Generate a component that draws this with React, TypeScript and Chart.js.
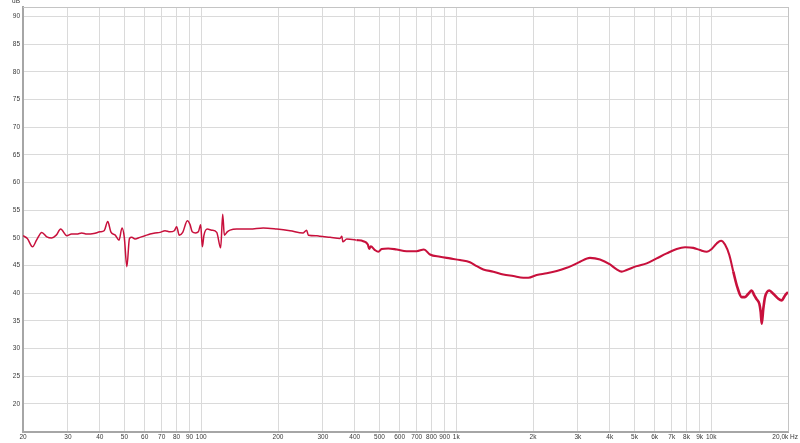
import React, { useEffect, useRef } from "react";
import { Chart, registerables } from "chart.js";

Chart.register(...registerables);

// Frequency (Hz) and level (dB)
const frequencies = [
  20.0, 20.8, 21.8, 22.6, 23.7, 24.8, 25.9, 27.0, 28.1, 29.7, 31.0, 32.5, 34.0, 35.6, 37.9,
  40.1, 41.6, 43.0, 44.2, 46.0, 47.6, 48.9, 49.9, 51.1, 52.3, 53.4, 55.0, 57.5, 60.2, 63.0,
  65.9, 68.9, 72.1, 75.4, 78.4, 80.1, 82.0, 84.6, 88.2, 90.4, 92.2, 95.1, 97.4, 99.5, 101,
  102.5, 105.6, 109.9, 115, 119.2, 121.4, 123.2, 126.5, 129.7, 137.7, 155, 175, 198, 223,
  251, 259, 263, 284, 292, 320, 350, 356, 359, 372, 407, 432, 450, 456, 462, 480, 495, 510,
  541, 584, 639, 700, 747, 789, 864, 945, 1034, 1132, 1203, 1277, 1398, 1529, 1674, 1832,
  1917, 2068, 2264, 2478, 2712, 2968, 3058, 3346, 3662, 4008, 4258, 4454, 4660, 5100, 5583,
  6111, 6689, 7321, 7894, 8505, 9036, 9599, 10042, 10506, 10924, 11323, 11774, 12206, 12655,
  13166, 13566, 13977, 14413, 14754, 15080, 15438, 15632, 15776, 16004, 16252, 16896, 17517,
  18326, 18897, 19465, 20000,
];

const levels = [
  50.4, 49.9, 48.4, 49.6, 51.0, 50.2, 50.0, 50.5, 51.6, 50.4, 50.7, 50.7, 50.9, 50.7, 50.8,
  51.1, 51.3, 52.95, 51.1, 50.5, 49.6, 51.8, 50.2, 44.8, 49.9, 50.1, 49.8, 50.1, 50.4, 50.7,
  50.9, 51.0, 51.3, 51.1, 51.3, 52.0, 50.5, 51.0, 53.1, 52.4, 51.1, 50.9, 51.1, 52.4, 48.4,
  50.5, 51.6, 51.4, 51.0, 48.2, 54.3, 50.5, 51.1, 51.4, 51.6, 51.6, 51.8, 51.6, 51.3,
  50.9, 51.4, 50.5, 50.4, 50.3, 50.1, 49.9, 50.3, 49.3, 49.8, 49.6, 49.4, 48.8, 48.0, 48.5,
  47.8, 47.5, 48.0, 48.1, 47.9, 47.6, 47.6, 47.9, 47.0, 46.6, 46.3, 46.0, 45.6, 44.9, 44.3,
  43.9, 43.4, 43.1, 42.8, 42.8, 43.3, 43.6, 44.0, 44.6, 45.4, 45.7, 46.4, 46.1, 45.2, 44.3,
  43.9, 44.2, 44.9, 45.4, 46.3, 47.2, 48.0, 48.3, 48.2, 47.8, 47.5, 48.0, 49.0, 49.5, 48.8,
  46.9, 43.9, 41.1, 39.3, 39.3, 39.9, 40.5, 39.6, 38.9, 38.1, 36.6, 34.5, 37.2, 39.3, 40.5,
  39.9, 39.0, 38.7, 39.6, 40.2,
];

const xTickValues = [
  20, 30, 40, 50, 60, 70, 80, 90, 100, 200, 300, 400, 500, 600, 700, 800, 900, 1000, 2000,
  3000, 4000, 5000, 6000, 7000, 8000, 9000, 10000, 20000,
];
const xTickLabels = [
  "20", "30", "40", "50", "60", "70", "80", "90", "100", "200", "300", "400", "500", "600",
  "700", "800", "900", "1k", "2k", "3k", "4k", "5k", "6k", "7k", "8k", "9k", "10k", "",
];
const yTickValues = [20, 25, 30, 35, 40, 45, 50, 55, 60, 65, 70, 75, 80, 85, 90];
const yUnitLabel = "dB";
const xEndLabel = "20,0k Hz";

const FONT_FAMILY = "'Liberation Sans', Arial, sans-serif";
const FONT_SIZE = 6.5;
const TEXT_COLOR = "#383838";
const LINE_COLOR = "#c8103c";
const GRID_COLOR = "#dadada";
const AXIS_COLOR = "#a6a6a6";

const framePlugin = {
  id: "frame",
  afterDraw(chart: any) {
    const { ctx, chartArea } = chart;
    ctx.save();
    ctx.strokeStyle = "#c4c4c4";
    ctx.lineWidth = 1;
    ctx.beginPath();
    ctx.moveTo(chartArea.left, chartArea.top + 0.5);
    ctx.lineTo(chartArea.right + 1, chartArea.top + 0.5);
    ctx.moveTo(chartArea.right + 0.5, chartArea.top);
    ctx.lineTo(chartArea.right + 0.5, chartArea.bottom);
    ctx.stroke();
    ctx.fillStyle = TEXT_COLOR;
    ctx.font = `${FONT_SIZE}px ${FONT_FAMILY}`;
    ctx.textAlign = "center";
    ctx.textBaseline = "alphabetic";
    ctx.fillText(yUnitLabel, 16, 3);
    ctx.textAlign = "right";
    ctx.textBaseline = "middle";
    ctx.fillText(xEndLabel, 798, chartArea.bottom + 6);
    ctx.restore();
  },
};

export default function App() {
  const canvasRef = useRef<HTMLCanvasElement | null>(null);

  useEffect(() => {
    if (!canvasRef.current) return;
    const data = frequencies.map((f, i) => ({ x: f, y: levels[i] }));
    const chart = new Chart(canvasRef.current, {
      type: "line",
      data: {
        datasets: [
          {
            data,
            borderColor: LINE_COLOR,
            borderWidth: 1.5,
            pointRadius: 0,
            cubicInterpolationMode: "monotone",
            segment: {
              borderWidth: (c: any) =>
                c.p0.parsed.x > 12000 ? 2.6 : c.p0.parsed.x > 400 ? 2.1 : 1.5,
            },
          } as any,
        ],
      },
      options: {
        responsive: false,
        animation: false,
        events: [],
        layout: { padding: { top: 7, right: 12, left: 0, bottom: 0 } },
        plugins: { legend: { display: false }, tooltip: { enabled: false } },
        scales: {
          x: {
            type: "logarithmic",
            min: 20,
            max: 20000,
            afterBuildTicks: (s: any) => {
              s.ticks = xTickValues.map((v) => ({ value: v }));
            },
            afterFit: (s: any) => {
              s.height = 11.5;
            },
            ticks: {
              autoSkip: false,
              maxRotation: 0,
              minRotation: 0,
              padding: 2,
              color: TEXT_COLOR,
              font: { size: FONT_SIZE, family: FONT_FAMILY },
              callback: (v: any) => {
                const i = xTickValues.indexOf(Number(v));
                return i >= 0 ? xTickLabels[i] : "";
              },
            },
            grid: { color: GRID_COLOR, lineWidth: 1, drawTicks: false },
            border: { display: true, color: AXIS_COLOR, width: 2 },
          },
          y: {
            type: "linear",
            min: 15,
            max: 91.75,
            afterBuildTicks: (s: any) => {
              s.ticks = yTickValues.map((v) => ({ value: v }));
            },
            afterFit: (s: any) => {
              s.width = 23;
            },
            ticks: {
              padding: 3,
              color: TEXT_COLOR,
              font: { size: FONT_SIZE, family: FONT_FAMILY },
              callback: (v: any) => String(v),
            },
            grid: { color: GRID_COLOR, lineWidth: 1, drawTicks: false },
            border: { display: true, color: AXIS_COLOR, width: 2 },
          },
        },
      } as any,
      plugins: [framePlugin],
    });
    return () => chart.destroy();
  }, []);

  return (
    <div
      style={{
        position: "fixed",
        left: 0,
        top: 0,
        width: 800,
        height: 443,
        background: "#ffffff",
      }}
    >
      <canvas ref={canvasRef} width={800} height={443} style={{ display: "block" }} />
    </div>
  );
}
